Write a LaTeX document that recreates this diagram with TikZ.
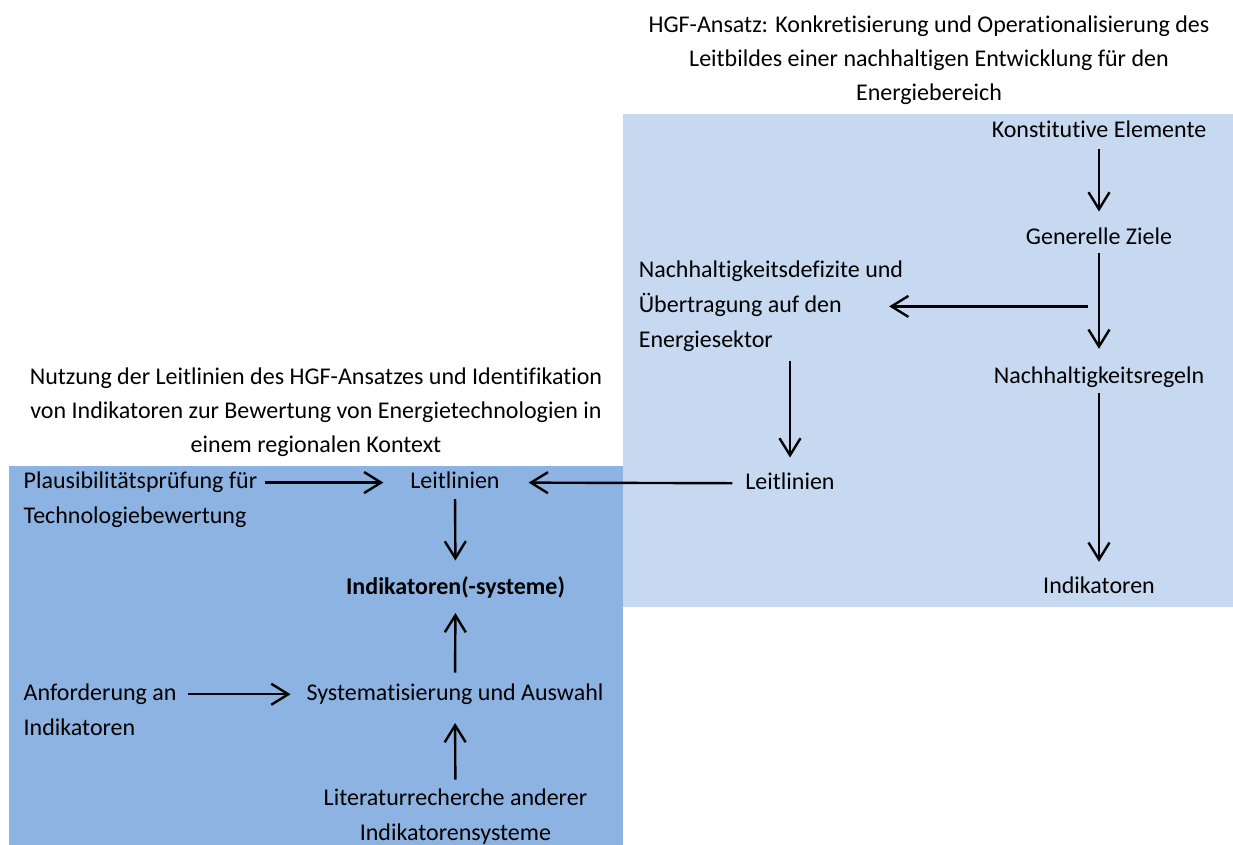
\documentclass[tikz,border=0pt]{standalone}
\usepackage{fontspec}
\setmainfont{Carlito}[Ligatures={NoCommon,NoContextual,NoRequired},Contextuals=NoAlternate]
\usetikzlibrary{arrows.meta}
\definecolor{lightbox}{HTML}{C6D9F1}
\definecolor{darkbox}{HTML}{8DB3E2}
\begin{document}
\begin{tikzpicture}[x=1pt,y=-1pt,
  txt/.style={font=\fontsize{24}{35}\selectfont, inner sep=0pt, outer sep=0pt},
  lbl/.style={txt, anchor=base, text height=16.5pt, text depth=5pt},
  arr/.style={-{Straight Barb[length=17pt,width=21pt]}, line width=2.4pt},
]
\useasboundingbox (0,0) rectangle (1233,845);
\fill[lightbox] (623,114) rectangle (1233,607);
\fill[darkbox] (9,466) rectangle (623,845);

% titles
\node[txt, anchor=north, align=center, font=\fontsize{24}{34}\selectfont] (t1) at (929,16)
  {HGF-Ansatz: Konkretisierung und Operationalisierung des\\Leitbildes einer nachhaltigen Entwicklung für den\\Energiebereich};
\node[txt, anchor=north, align=center, font=\fontsize{24}{34}\selectfont] (t2) at (316,368)
  {Nutzung der Leitlinien des HGF-Ansatzes und Identifikation\\von Indikatoren zur Bewertung von Energietechnologien in\\einem regionalen Kontext};

% right part
\node[lbl] (kons) at (1099,137.5) {Konstitutive Elemente};
\node[lbl] (gen) at (1099,244.5) {Generelle Ziele};
\node[txt, anchor=north west, align=left] (defizit) at (638.8,261) {Nachhaltigkeitsdefizite und\\Übertragung auf den\\Energiesektor};
\node[lbl] (regeln) at (1099,383.3) {Nachhaltigkeitsregeln};
\node[lbl] (leitR) at (790,489) {Leitlinien};
\node[lbl] (indR) at (1099,593.3) {Indikatoren};

% left part
\node[txt, anchor=north west, align=left] (plaus) at (23.7,472) {Plausibilitätsprüfung für\\Technologiebewertung};
\node[lbl] (leitL) at (455,488.3) {Leitlinien};
\node[lbl, font=\fontsize{24}{35}\selectfont\bfseries] (indL) at (455.5,594) {Indikatoren(-systeme)};
\node[txt, anchor=north west, align=left] (anf) at (23.7,683.5) {Anforderung an\\Indikatoren};
\node[lbl] (sys) at (455,700) {Systematisierung und Auswahl};
\node[txt, anchor=north, align=center] (lit) at (455.4,788.5) {Literaturrecherche anderer\\Indikatorensysteme};

% arrows
\draw[arr, shorten <=6.5pt, shorten >=16.5pt] (kons.south) -- (gen.north);
\draw[arr, shorten <=3.5pt, shorten >=18pt] (gen.south) -- (regeln.north);
\draw[arr, shorten <=4.7pt, shorten >=15pt] (regeln.south) -- (indR.north);
\draw[arr, shorten <=11pt, shorten >=-14pt] (gen.south |- defizit.east) -- (defizit.east);
\draw[arr, shorten <=9.5pt, shorten >=15pt] (defizit.south -| leitR.north) -- (leitR.north);
\draw[arr, shorten <=13pt, shorten >=29pt] (leitR.west) -- (leitL.east);
\draw[arr, shorten <=8pt, shorten >=27pt] (plaus.east |- leitL.west) -- (leitL.west);
\draw[arr, shorten <=5.7pt, shorten >=17pt] (leitL.south) -- (indL.north);
\draw[arr, shorten <=11pt, shorten >=14pt] (sys.north) -- (indL.south);
\draw[arr, shorten <=11.5pt, shorten >=16pt] (anf.east |- sys.west) -- (sys.west);
\draw[arr, shorten <=9pt, shorten >=18pt] (lit.north) -- (sys.south);
\end{tikzpicture}
\end{document}
